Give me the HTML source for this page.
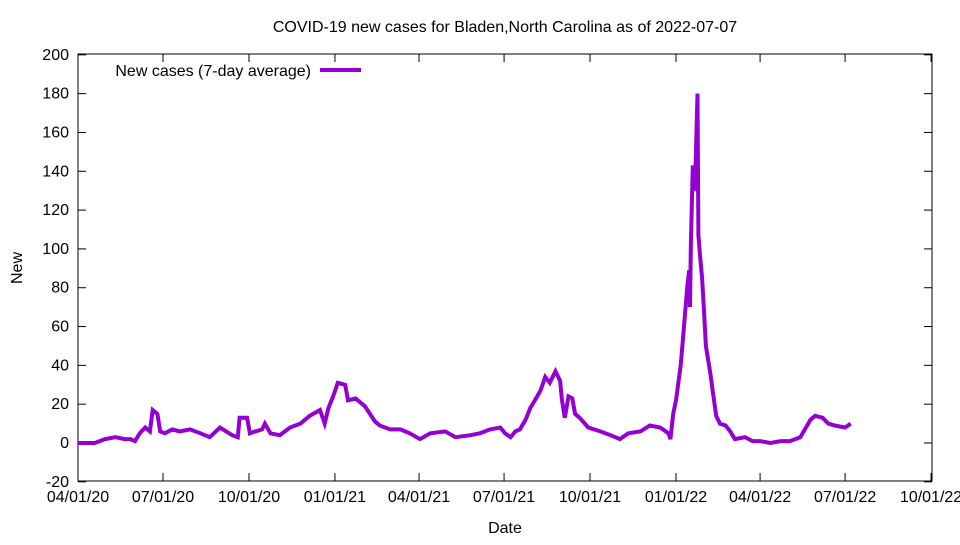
<!DOCTYPE html>
<html><head><meta charset="utf-8"><style>
body{margin:0;background:#fff}
svg text{font-family:"Liberation Sans",sans-serif;font-size:16px;fill:#000}
</style></head><body>
<svg id="chart" width="960" height="540" xmlns="http://www.w3.org/2000/svg">
<text x="505" y="32" text-anchor="middle">COVID-19 new cases for Bladen,North Carolina as of 2022-07-07</text>
<text x="505" y="533" text-anchor="middle">Date</text>
<text transform="translate(22,268) rotate(-90)" text-anchor="middle">New</text>
<rect x="78" y="54" width="854" height="427" fill="none" stroke="#000" stroke-width="1"/>
<g id="axes"></g>
<g>
<text x="311" y="76" text-anchor="end">New cases (7-day average)</text>
<line x1="320" y1="70" x2="361" y2="70" stroke="#9400d3" stroke-width="4"/>
</g>
<path id="series" fill="none" stroke="#9400d3" stroke-width="4" stroke-linejoin="miter"/>
</svg>
<script>
const days=[0,18,29,40,50,56,61,66,72,77,80,85,88,93,101,109,120,131,141,152,165,171,173,181,184,190,197,200,206,216,227,238,248,259,264,268,273,278,286,289,297,307,318,323,334,345,355,366,377,393,404,420,430,441,452,457,463,468,473,479,484,489,495,500,505,511,516,518,521,525,529,532,537,546,559,570,580,589,602,612,623,632,634,637,640,645,648,652,654,655,656,658,660,661,663,664,666,668,670,672,677,679,683,687,693,698,703,714,722,730,741,752,762,773,778,784,789,797,803,810,821,827];
const values=[0,0,2,3,2,2,1,5,8,6,17,15,6,5,7,6,7,5,3,8,4,3,13,13,5,6,7,10,5,4,8,10,14,17,10,18,24,31,30,22,23,19,11,9,7,7,5,2,5,6,3,4,5,7,8,5,3,6,7,12,18,22,27,34,31,37,32,22,13,24,23,15,13,8,6,4,2,5,6,9,8,5,2,15,22,40,57,80,89,70,103,143,130,143,180,107,95,85,68,50,35,28,14,10,9,6,2,3,1,1,0,1,1,3,7,12,14,13,10,9,8,10];
const yTicks=[-20,0,20,40,60,80,100,120,140,160,180,200];
const xTickDays=[0,91,183,275,365,456,548,640,730,821,913];
const xTickLabels=["04/01/20","07/01/20","10/01/20","01/01/21","04/01/21","07/01/21","10/01/21","01/01/22","04/01/22","07/01/22","10/01/22"];
const X=d=>78+d*854/914;
const Y=v=>443-(v)*427/220;
const NS="http://www.w3.org/2000/svg";
const ax=document.getElementById('axes');
function mk(tag,attrs){const e=document.createElementNS(NS,tag);for(const k in attrs)e.setAttribute(k,attrs[k]);return e;}
yTicks.forEach(v=>{
  const y=Y(v);
  const l=mk('line',{x1:78,x2:86,y1:y,y2:y,stroke:'#000'});
  
  
  ax.appendChild(l);
  const l2=mk('line',{x1:924,x2:932,y1:y,y2:y,stroke:'#000'});
  
  
  ax.appendChild(l2);
  const t=mk('text',{x:69,y:y+5,'text-anchor':'end'});
  t.textContent=v;
  
  
  ax.appendChild(t);
});
xTickDays.forEach((d,i)=>{
  const x=X(d);
  const l=mk('line',{x1:x,x2:x,y1:481,y2:473,stroke:'#000'});
  
  
  ax.appendChild(l);
  const l2=mk('line',{x1:x,x2:x,y1:54,y2:62,stroke:'#000'});
  
  
  ax.appendChild(l2);
  const t=mk('text',{x:x,y:502,'text-anchor':'middle'});
  t.textContent=xTickLabels[i];
  
  
  ax.appendChild(t);
});
document.getElementById('series').setAttribute('d',days.map((d,i)=>(i?'L':'M')+X(d).toFixed(1)+','+Y(values[i]).toFixed(1)).join(''));
</script>
</body></html>
